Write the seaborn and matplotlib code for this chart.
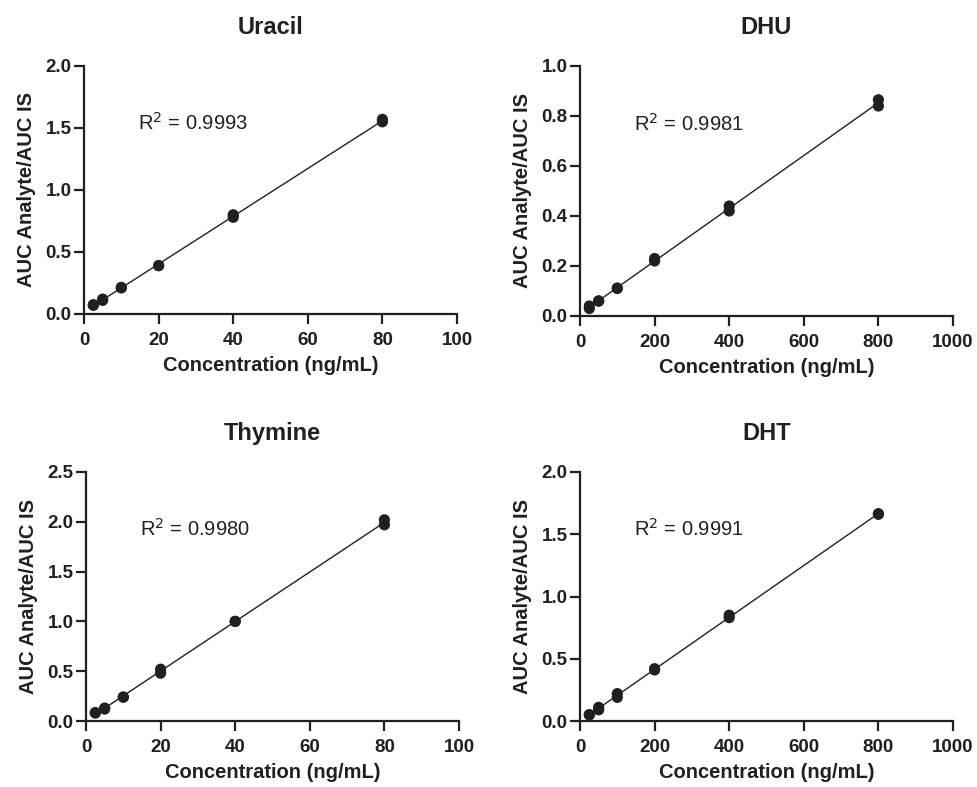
import matplotlib
matplotlib.use("Agg")
import matplotlib.pyplot as plt
import seaborn as sns
import pandas as pd

sns.set_theme(style="ticks")
plt.rcParams['font.family'] = ['Liberation Sans', 'DejaVu Sans']

# Data (duplicate replicates per level)
conc_low = [2.5, 2.5, 5, 5, 10, 10, 20, 20, 40, 40, 80, 80]
conc_high = [25, 25, 50, 50, 100, 100, 200, 200, 400, 400, 800, 800]

uracil = [0.07, 0.075, 0.11, 0.12, 0.21, 0.215, 0.39, 0.39, 0.78, 0.80, 1.55, 1.57]
dhu = [0.03, 0.04, 0.06, 0.06, 0.11, 0.112, 0.22, 0.23, 0.42, 0.44, 0.84, 0.865]
thymine = [0.08, 0.085, 0.12, 0.13, 0.24, 0.24, 0.48, 0.52, 1.0, 1.0, 1.97, 2.02]
dht = [0.05, 0.05, 0.09, 0.11, 0.19, 0.22, 0.41, 0.42, 0.83, 0.85, 1.66, 1.665]

titles = ["Uracil", "DHU", "Thymine", "DHT"]
r2_labels = ["0.9993", "0.9981", "0.9980", "0.9991"]
xlims = [(0, 100), (0, 1000), (0, 100), (0, 1000)]
xticks = [[0, 20, 40, 60, 80, 100], [0, 200, 400, 600, 800, 1000],
          [0, 20, 40, 60, 80, 100], [0, 200, 400, 600, 800, 1000]]
ylims = [(0, 2.0), (0, 1.0), (0, 2.5), (0, 2.0)]
yticks = [[0, 0.5, 1.0, 1.5, 2.0], [0, 0.2, 0.4, 0.6, 0.8, 1.0],
          [0, 0.5, 1.0, 1.5, 2.0, 2.5], [0, 0.5, 1.0, 1.5, 2.0]]
series = [(conc_low, uracil), (conc_high, dhu), (conc_low, thymine), (conc_high, dht)]

INK = "#231f20"
fig = plt.figure(figsize=(9.78, 7.87), dpi=100)
boxes = [
    (84, 66, 457, 314),
    (580, 66, 953, 316),
    (86, 472, 459, 721),
    (580, 472, 953, 721),
]
W, H = 978, 787
for i, (l, t, r, b) in enumerate(boxes):
    ax = fig.add_axes([l / W, 1 - b / H, (r - l) / W, (b - t) / H])
    x, y = series[i]
    df = pd.DataFrame({"x": x, "y": y})
    sns.regplot(data=df, x="x", y="y", ax=ax, ci=None,
                scatter_kws=dict(s=65, color=INK, edgecolor="none", alpha=1, clip_on=False, zorder=3),
                line_kws=dict(color=INK, lw=1.0))
    ax.set_xlim(*xlims[i])
    ax.set_ylim(*ylims[i])
    ax.set_xticks(xticks[i])
    ax.set_yticks(yticks[i])
    ax.set_xticklabels([str(v) for v in xticks[i]], fontweight="bold", fontsize=13.5)
    ax.set_yticklabels(["{:.1f}".format(v) for v in yticks[i]], fontweight="bold", fontsize=13.5)
    ax.set_title(titles[i], fontweight="bold", fontsize=17, pad=23, color=INK)
    ax.set_xlabel("Concentration (ng/mL)", fontweight="bold", fontsize=14.5, labelpad=5, color=INK)
    ax.set_ylabel("AUC Analyte/AUC IS", fontweight="bold", fontsize=14.5, labelpad=7, color=INK)
    sns.despine(ax=ax)
    for s in ["left", "bottom"]:
        ax.spines[s].set_linewidth(1.6)
        ax.spines[s].set_color(INK)
    ax.tick_params(axis="both", width=1.6, length=7, color=INK, labelcolor=INK)
    ax.tick_params(axis="x", pad=6)
    ax.tick_params(axis="y", pad=2)
    ax.text(0.145, 0.77, r"R$^2$ = " + r2_labels[i], transform=ax.transAxes,
            fontsize=14.5, color=INK, va="center", ha="left")

fig.savefig("out.png", dpi=100)
